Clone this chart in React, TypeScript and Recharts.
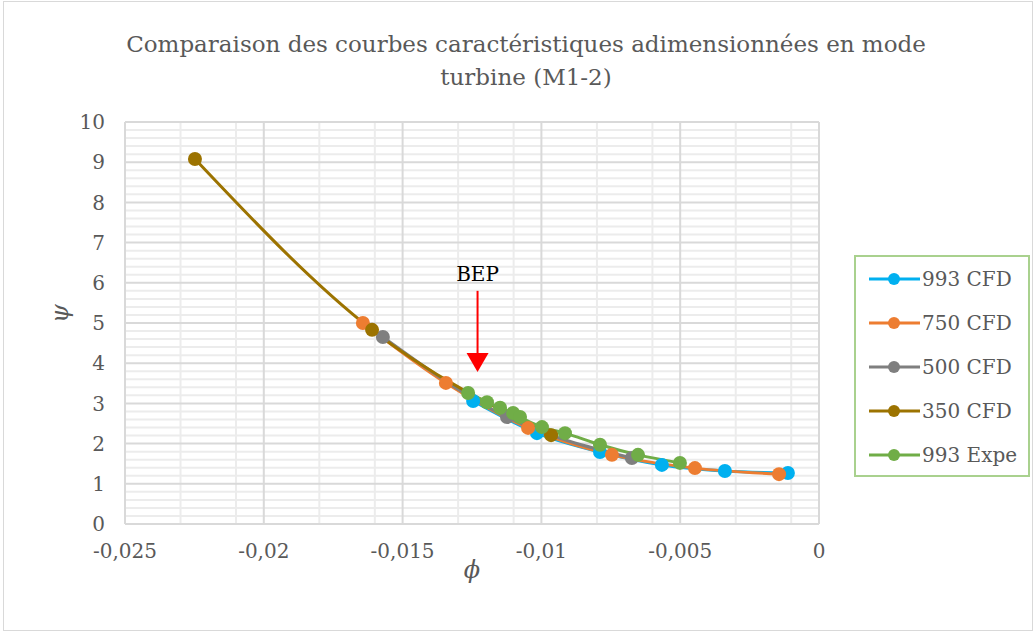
import React from "react";
import {
  LineChart,
  Line,
  XAxis,
  YAxis,
  CartesianGrid,
  ReferenceLine,
  ReferenceDot
} from "recharts";

// phi (x) / psi (y)
const phi993Cfd = [-0.01246, -0.01016, -0.00789, -0.00566, -0.00339, -0.00112];
const psi993Cfd = [3.06, 2.26, 1.79, 1.47, 1.32, 1.27];

const phi750Cfd = [-0.01643, -0.01344, -0.01048, -0.00746, -0.00447, -0.00144];
const psi750Cfd = [5.0, 3.51, 2.39, 1.72, 1.39, 1.24];

const phi500Cfd = [-0.01571, -0.01124, -0.00674];
const psi500Cfd = [4.65, 2.66, 1.64];

const phi350Cfd = [-0.02248, -0.0161, -0.00965];
const psi350Cfd = [9.08, 4.83, 2.21];

const phi993Expe = [-0.01264, -0.01196, -0.01149, -0.01102, -0.01077, -0.00998, -0.00915, -0.00789, -0.00652, -0.00501];
const psi993Expe = [3.26, 3.03, 2.89, 2.76, 2.66, 2.41, 2.26, 1.97, 1.72, 1.52];

const xTicks = [-0.025, -0.02, -0.015, -0.01, -0.005, 0];
const yTicks = [0, 1, 2, 3, 4, 5, 6, 7, 8, 9, 10];
const xMinor = [-0.024, -0.023, -0.022, -0.021, -0.019, -0.018, -0.017, -0.016, -0.014, -0.013, -0.012, -0.011, -0.009, -0.008, -0.007, -0.006, -0.004, -0.003, -0.002, -0.001];
const yMinor = [0.2, 0.4, 0.6, 0.8, 1.2, 1.4, 1.6, 1.8, 2.2, 2.4, 2.6, 2.8, 3.2, 3.4, 3.6, 3.8, 4.2, 4.4, 4.6, 4.8, 5.2, 5.4, 5.6, 5.8, 6.2, 6.4, 6.6, 6.8, 7.2, 7.4, 7.6, 7.8, 8.2, 8.4, 8.6, 8.8, 9.2, 9.4, 9.6, 9.8];

// BEP annotation
const bepPhi = -0.0123;
const bepArrowTop = 5.8;
const bepArrowTip = 3.78;

const FONT = "'DejaVu Serif', serif";
const TEXT = "#595959";
const MINOR = "#ececec";
const MAJOR = "#d9d9d9";

const toPoints = (xs: number[], ys: number[]) => xs.map((x, i) => ({ x, y: ys[i] }));

const series = [
  { name: "993 CFD", color: "#00b0f0", data: toPoints(phi993Cfd, psi993Cfd) },
  { name: "750 CFD", color: "#ed7d31", data: toPoints(phi750Cfd, psi750Cfd) },
  { name: "500 CFD", color: "#7f7f7f", data: toPoints(phi500Cfd, psi500Cfd) },
  { name: "350 CFD", color: "#9c7300", data: toPoints(phi350Cfd, psi350Cfd) },
  { name: "993 Expe", color: "#70ad47", data: toPoints(phi993Expe, psi993Expe) }
];

const fmt = (v: number) => (v === 0 ? "0" : String(v).replace(".", ","));

const LegendBox = () => (
  <div
    style={{
      position: "absolute",
      left: 854,
      top: 255,
      width: 176,
      height: 222,
      border: "2px solid #a9d18e",
      backgroundColor: "#fff",
      boxSizing: "border-box"
    }}
  >
    {series.map((s) => (
      <div key={s.name} style={{ display: "flex", alignItems: "center", height: 44 }}>
        <svg width={66} height={20}>
          <line x1={13} y1={10} x2={64} y2={10} stroke={s.color} strokeWidth={3} />
          <circle cx={38} cy={10} r={6} fill={s.color} />
        </svg>
        <span style={{ fontFamily: FONT, fontSize: 20, color: TEXT }}>{s.name}</span>
      </div>
    ))}
  </div>
);

const Arrowhead = (props: any) => {
  const { cx, cy } = props;
  return <polygon points={`${cx - 11},${cy - 19} ${cx + 11},${cy - 19} ${cx},${cy}`} fill="#ff0000" />;
};

export default function App() {
  return (
    <div
      style={{
        position: "fixed",
        left: 0,
        top: 0,
        width: 1035,
        height: 633,
        backgroundColor: "#fff"
      }}
    >
      <div
        style={{
          position: "absolute",
          left: 3,
          top: 1,
          width: 1028,
          height: 628,
          border: "1px solid #d9d9d9"
        }}
      />
      <div
        style={{
          position: "absolute",
          left: 26,
          top: 28,
          width: 1000,
          textAlign: "center",
          fontFamily: FONT,
          fontSize: 23,
          lineHeight: "33px",
          color: TEXT
        }}
      >
        Comparaison des courbes caractéristiques adimensionnées en mode
        <br />
        turbine (M1-2)
      </div>
      <LineChart
        width={1035}
        height={633}
        margin={{ top: 122, right: 216, bottom: 69, left: 65 }}
        style={{ position: "absolute", left: 0, top: 0 }}
      >
        <CartesianGrid stroke={MINOR} strokeWidth={2} horizontal={false} verticalValues={xMinor} />
        <XAxis
          type="number"
          dataKey="x"
          domain={[-0.025, 0]}
          ticks={xTicks}
          tickFormatter={fmt}
          axisLine={false}
          tickLine={false}
          height={40}
          tick={{ fill: TEXT, fontSize: 20, fontFamily: FONT }}
          tickMargin={14}
          label={{ value: "ϕ", position: "insideBottom", offset: -14, style: { fontFamily: FONT, fontStyle: "italic", fontSize: 24, fill: TEXT } }}
        />
        <YAxis
          type="number"
          dataKey="y"
          domain={[0, 10]}
          ticks={yTicks}
          axisLine={false}
          tickLine={false}
          width={60}
          tick={{ fill: TEXT, fontSize: 20, fontFamily: FONT }}
          tickMargin={14}
          label={{ value: "ψ", angle: -90, position: "insideLeft", offset: -6, style: { fontFamily: FONT, fontStyle: "italic", fontSize: 24, fill: TEXT } }}
        />
        {yMinor.map((v) => (
          <ReferenceLine key={`ym${v}`} y={v} stroke={MINOR} strokeWidth={2} />
        ))}
        {xTicks.map((v) => (
          <ReferenceLine key={`xM${v}`} x={v} stroke={MAJOR} strokeWidth={2} />
        ))}
        {yTicks.map((v) => (
          <ReferenceLine key={`yM${v}`} y={v} stroke={MAJOR} strokeWidth={2} />
        ))}
        {series.map((s) => (
          <Line
            key={s.name}
            data={s.data}
            dataKey="y"
            name={s.name}
            type="monotone"
            stroke={s.color}
            strokeWidth={3}
            dot={{ r: 7, fill: s.color, stroke: "none" }}
            isAnimationActive={false}
          />
        ))}
        <ReferenceLine
          segment={[
            { x: bepPhi, y: bepArrowTop },
            { x: bepPhi, y: bepArrowTip + 0.4 }
          ]}
          stroke="#ff0000"
          strokeWidth={2}
          label={{ value: "BEP", position: "top", offset: 10, style: { fontFamily: FONT, fontSize: 20, fill: "#000" } }}
        />
        <ReferenceDot x={bepPhi} y={bepArrowTip} r={0} shape={Arrowhead} />
      </LineChart>
      <LegendBox />
    </div>
  );
}
